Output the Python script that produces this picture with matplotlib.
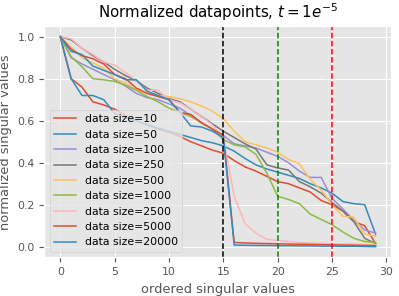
import matplotlib
matplotlib.use("Agg")
import matplotlib.pyplot as plt
import numpy as np

plt.style.use("ggplot")
plt.rcParams.update({"font.size": 7.8, "lines.linewidth": 1.1})

# ordered singular value index
idx = np.arange(30)

labels = ["data size=10", "data size=50", "data size=100", "data size=250",
          "data size=500", "data size=1000", "data size=2500",
          "data size=5000", "data size=20000"]

sv_10 = [1.0, 0.80, 0.76, 0.69, 0.675, 0.655, 0.625, 0.60, 0.58, 0.56,
         0.545, 0.525, 0.50, 0.48, 0.46, 0.445, 0.41, 0.38, 0.36, 0.335,
         0.31, 0.30, 0.28, 0.26, 0.22, 0.20, 0.17, 0.12, 0.10, 0.015]
sv_50 = [1.0, 0.80, 0.72, 0.72, 0.70, 0.635, 0.615, 0.60, 0.58, 0.565,
         0.55, 0.535, 0.52, 0.505, 0.495, 0.48, 0.455, 0.42, 0.39, 0.37,
         0.355, 0.34, 0.325, 0.30, 0.28, 0.255, 0.215, 0.205, 0.20, 0.06]
sv_100 = [1.0, 0.90, 0.87, 0.845, 0.82, 0.795, 0.765, 0.73, 0.71, 0.70,
          0.68, 0.66, 0.625, 0.59, 0.56, 0.53, 0.49, 0.48, 0.47, 0.45,
          0.43, 0.40, 0.36, 0.33, 0.33, 0.23, 0.18, 0.125, 0.08, 0.065]
sv_250 = [1.0, 0.985, 0.945, 0.91, 0.88, 0.845, 0.815, 0.79, 0.755, 0.73,
          0.705, 0.69, 0.655, 0.62, 0.585, 0.55, 0.52, 0.49, 0.465, 0.39,
          0.375, 0.365, 0.31, 0.285, 0.255, 0.21, 0.17, 0.12, 0.04, 0.015]
sv_500 = [1.0, 0.95, 0.90, 0.875, 0.85, 0.80, 0.78, 0.745, 0.73, 0.72,
          0.715, 0.705, 0.69, 0.67, 0.645, 0.61, 0.55, 0.50, 0.485, 0.47,
          0.45, 0.415, 0.395, 0.32, 0.27, 0.20, 0.145, 0.14, 0.06, 0.05]
sv_1000 = [1.0, 0.905, 0.857, 0.80, 0.795, 0.787, 0.77, 0.745, 0.715, 0.69,
           0.66, 0.64, 0.62, 0.59, 0.56, 0.51, 0.485, 0.475, 0.44, 0.35,
           0.24, 0.225, 0.205, 0.155, 0.13, 0.105, 0.07, 0.04, 0.025, 0.02]
sv_2500 = [1.0, 0.99, 0.945, 0.915, 0.88, 0.865, 0.83, 0.79, 0.745, 0.745,
           0.70, 0.685, 0.655, 0.62, 0.58, 0.52, 0.24, 0.11, 0.065, 0.035,
           0.03, 0.025, 0.02, 0.018, 0.015, 0.014, 0.013, 0.012, 0.011, 0.01]
sv_5000 = [1.0, 0.94, 0.91, 0.895, 0.87, 0.82, 0.80, 0.755, 0.73, 0.715,
           0.70, 0.64, 0.63, 0.59, 0.56, 0.53, 0.02, 0.018, 0.016, 0.015,
           0.014, 0.013, 0.012, 0.011, 0.01, 0.009, 0.008, 0.007, 0.006, 0.005]
sv_20000 = [1.0, 0.93, 0.915, 0.86, 0.84, 0.82, 0.795, 0.795, 0.74, 0.72,
            0.70, 0.64, 0.575, 0.57, 0.55, 0.52, 0.008, 0.007, 0.006, 0.006,
            0.005, 0.005, 0.004, 0.004, 0.003, 0.003, 0.002, 0.002, 0.001, 0.0]

series = [sv_10, sv_50, sv_100, sv_250, sv_500, sv_1000, sv_2500, sv_5000, sv_20000]
cutoffs = [15, 20, 25]
cutoff_colors = ["k", "g", "r"]

fig = plt.figure(figsize=(3.99, 2.96), dpi=100)
ax = fig.add_axes([0.1115, 0.131, 0.8692, 0.7805])
for vals, lab in zip(series, labels):
    ax.plot(idx, vals, label=lab)
for c, col in zip(cutoffs, cutoff_colors):
    ax.axvline(c, color=col, linestyle="--", lw=1.1)

ax.set_title(r"Normalized datapoints, $t = 1e^{-5}$", color="black",
             fontsize=10.8)
ax.set_xlabel("ordered singular values")
ax.set_ylabel("normalized singular values")
ax.legend(loc="lower left")

fig.savefig("out.png", dpi=100)
